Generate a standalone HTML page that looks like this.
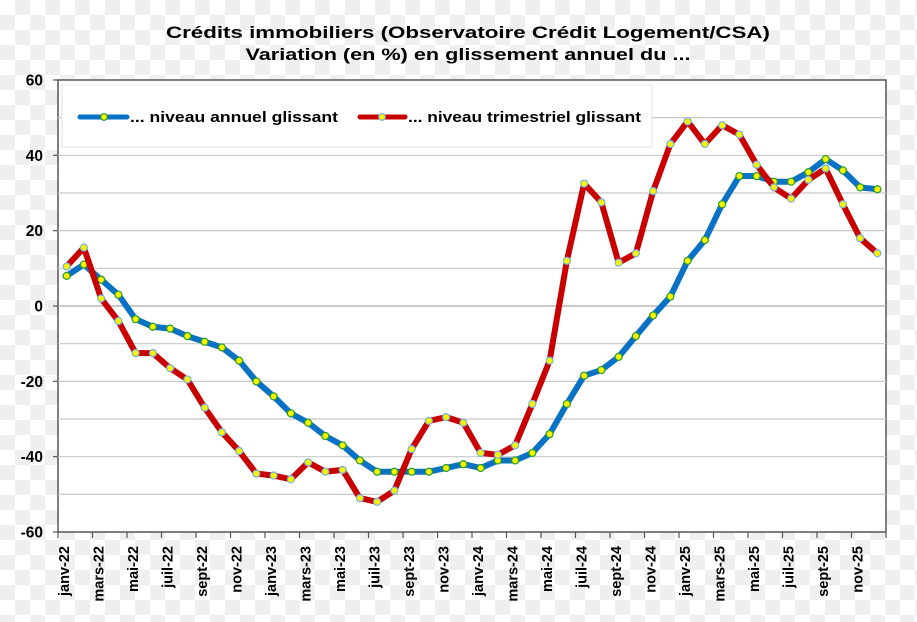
<!DOCTYPE html>
<html><head><meta charset="utf-8"><style>
html,body{margin:0;padding:0;}
body{width:917px;height:622px;overflow:hidden;background-color:#fff;
background-image:conic-gradient(#efefef 25%,#fff 0 50%,#efefef 0 75%,#fff 0);background-size:30px 30px;}
svg{position:absolute;left:0;top:0;}
</style></head><body>
<svg width="917" height="622" xmlns="http://www.w3.org/2000/svg" font-family="Liberation Sans, Arial, sans-serif" font-weight="bold">
<text x="468" y="38" text-anchor="middle" font-size="17" textLength="604" lengthAdjust="spacingAndGlyphs">Crédits immobiliers (Observatoire Crédit Logement/CSA)</text>
<text x="468" y="60" text-anchor="middle" font-size="17" textLength="445" lengthAdjust="spacingAndGlyphs">Variation (en %) en glissement annuel du ...</text>
<rect x="58" y="80" width="828" height="452" fill="#fff" stroke="#555" stroke-width="1.5"/>
<g id="grid" stroke="#c8c8c8" stroke-width="1.2"></g>
<rect x="62" y="85" width="590" height="62" fill="#fff" stroke="#e2e2e2" stroke-width="1"/>
<g id="axes"></g>
<g id="series"></g>
<line x1="80" y1="117" x2="127" y2="117" stroke="#0a72c4" stroke-width="5" stroke-linecap="round"/>
<circle cx="104" cy="117" r="3.3" fill="#f5f500" stroke="#2a9a2a" stroke-width="1.2"/>
<text x="130" y="122" font-size="14.5" textLength="208" lengthAdjust="spacingAndGlyphs">... niveau annuel glissant</text>
<line x1="360" y1="117" x2="405" y2="117" stroke="#c80000" stroke-width="5" stroke-linecap="round"/>
<circle cx="382" cy="117" r="3.3" fill="#f5f500" stroke="#7aaee0" stroke-width="1.2"/>
<text x="408" y="122" font-size="14.5" textLength="233" lengthAdjust="spacingAndGlyphs">... niveau trimestriel glissant</text>
</svg>
<script>
const ns="http://www.w3.org/2000/svg";
function el(p,t,a,txt){const e=document.createElementNS(ns,t);for(const k in a)e.setAttribute(k,a[k]);if(txt!==undefined)e.textContent=txt;document.getElementById(p).appendChild(e);return e;}
const Y=v=>306-v*3.767, X=i=>58+17.25*(i+0.5);
for(let v=-50;v<=50;v+=10){if(v===0)continue;el('grid','line',{x1:58,x2:886,y1:Y(v),y2:Y(v)});}
el('grid','line',{x1:58,x2:886,y1:Y(0),y2:Y(0),stroke:'#aaa'});
for(let v=-60;v<=60;v+=20){el('axes','line',{x1:53,x2:58,y1:Y(v),y2:Y(v),stroke:'#555','stroke-width':1.2});
el('axes','text',{x:43,y:Y(v)+5.5,'text-anchor':'end','font-size':15.5},String(v));}
const m=['janv','mars','mai','juil','sept','nov'];
for(let i=0;i<=48;i+=2){const x=58+17.25*i;el('axes','line',{x1:x,x2:x,y1:532,y2:538,stroke:'#555','stroke-width':1.2});
if(i<48){const lab=m[(i/2)%6]+'-'+(22+Math.floor(i/12));const tx=x+11,ty=546;
el('axes','text',{x:tx,y:ty,'text-anchor':'end','font-size':14.5,transform:`rotate(-90 ${tx} ${ty})`},lab);}}
const blue=[8,11,7,3,-3.5,-5.5,-6,-8,-9.5,-11,-14.5,-20,-24,-28.5,-31,-34.5,-37,-41,-44,-44,-44,-44,-43,-42,-43,-41,-41,-39,-34,-26,-18.5,-17,-13.5,-8,-2.5,2.5,12,17.5,27,34.5,34.5,33,33,35.5,39,36,31.5,31];
const red=[10.5,15.5,2,-4,-12.5,-12.5,-16.5,-19.5,-27,-33.5,-38.5,-44.5,-45,-46,-41.5,-44,-43.5,-51,-52,-49,-38,-30.5,-29.5,-31,-39,-39.5,-37,-26,-14.5,12,32.5,27.5,11.5,14,30.5,43,49,43,48,45.5,37.5,31.5,28.5,33.5,36.5,27,18,14];
function draw(d,c,ms){el('series','polyline',{points:d.map((v,i)=>X(i)+','+Y(v)).join(' '),fill:'none',stroke:c,'stroke-width':6,'stroke-linejoin':'round'});
d.forEach((v,i)=>el('series','circle',{cx:X(i),cy:Y(v),r:3.5,fill:'#f5f500',stroke:ms,'stroke-width':1.2}));}
draw(blue,'#0a72c4','#2a9a2a');
draw(red,'#c80000','#7aaee0');
</script>
</body></html>
